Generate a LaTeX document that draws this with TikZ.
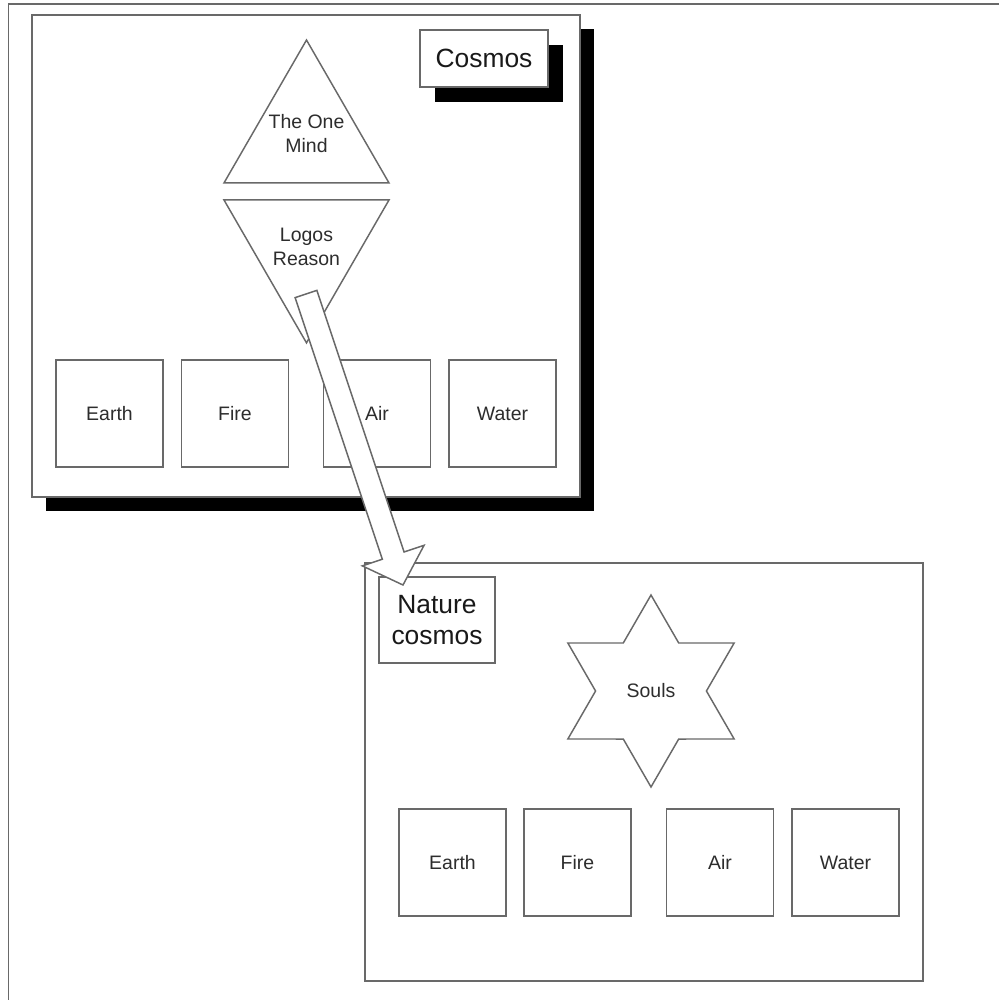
\documentclass[tikz,border=0pt]{standalone}
\usepackage{fontspec}
\setmainfont{Liberation Sans}
\usetikzlibrary{shapes.geometric,calc}

\definecolor{linegray}{RGB}{105,105,105}
\definecolor{textgray}{RGB}{45,45,45}

\tikzset{
  panel/.style={draw=linegray, line width=1.1pt, fill=white},
  elembox/.style={draw=linegray, line width=1.1pt, fill=white, minimum size=80.25pt, inner sep=0pt, text=textgray, font=\fontsize{14.6}{18}\selectfont},
  labelbox/.style={draw=linegray, line width=1.1pt, fill=white, inner sep=0pt, align=center, text=black!90, font=\fontsize{19.8}{23.25}\selectfont},
  tri/.style={regular polygon, regular polygon sides=3, draw=linegray, line width=1.1pt, minimum size=142.9pt, inner sep=0pt},
  tritext/.style={inner sep=0pt, align=center, text=textgray, font=\fontsize{14.6}{18}\selectfont},
  blockarrow/.style={draw=linegray, line width=1.1pt, fill=white, line join=miter}
}

\begin{document}
\begin{tikzpicture}[x=0.75pt,y=0.75pt,yscale=-1,xscale=1]
\useasboundingbox (0,0) rectangle (999,1000);

% outer frame
\draw[linegray, line width=1.3pt] (8.5,1000) -- (8.5,4) -- (999,4);

% Cosmos panel with its shadow
\fill (46,29) rectangle (594,511);
\draw[panel] (32,15) rectangle (580,497);
\fill (435,45) rectangle (563,102);
\node[labelbox, minimum width=96pt, minimum height=42.75pt] (cosmos) at (484,58.5) {Cosmos};

% mind and reason
\node[tri] (onemind) at (306.5,135.3) {};
\node[tritext] (onemindtext) at (306.5,134) {The One\\Mind};
\node[tri, shape border rotate=180] (logos) at (306.5,247.6) {};
\node[tritext] (logostext) at (306.5,246.5) {Logos\\Reason};

% elements, upper row
\node[elembox] (earthA) at (109.5,413.5) {Earth};
\node[elembox] (fireA) at (235,413.5) {Fire};
\node[elembox] (airA) at (377,413.5) {Air};
\node[elembox] (waterA) at (502.5,413.5) {Water};

% Nature cosmos panel
\draw[panel] (365,563) rectangle (923,981);
\node[labelbox, minimum width=87pt, minimum height=64.5pt] (nature) at (437,620) {Nature\\cosmos};
\node[star, star points=6, star point ratio=1.732, draw=linegray, line width=1.1pt, minimum size=144pt, inner sep=0pt, text=textgray, font=\fontsize{14.6}{18}\selectfont] (souls) at (651,691) {Souls};

% elements, lower row
\node[elembox] (earthB) at (452.5,862.5) {Earth};
\node[elembox] (fireB) at (577.5,862.5) {Fire};
\node[elembox] (airB) at (720,862.5) {Air};
\node[elembox] (waterB) at (845.5,862.5) {Water};

% big arrow from Logos down to the Nature cosmos
\coordinate (arrowtail) at (306,294);
\coordinate (arrowtip) at (403,585);
\coordinate (arrowneck) at ($(arrowtip)!23.25pt!(arrowtail)$);
\draw[blockarrow] ($(arrowtail)!8.6pt!90:(arrowtip)$) -- ($(arrowneck)!8.6pt!90:(arrowtip)$)
  -- ($(arrowneck)!24.4pt!90:(arrowtip)$) -- (arrowtip) -- ($(arrowneck)!24.4pt!-90:(arrowtip)$)
  -- ($(arrowneck)!8.6pt!-90:(arrowtip)$) -- ($(arrowtail)!8.6pt!-90:(arrowtip)$) -- cycle;

\end{tikzpicture}
\end{document}
